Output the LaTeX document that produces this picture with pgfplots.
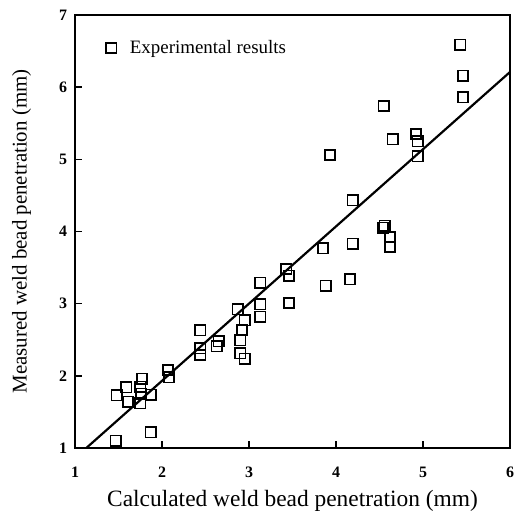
\documentclass[border=0pt]{standalone}
\usepackage{pgfplots}
\pgfplotsset{compat=1.18}
\usepackage{fontspec}
\setmainfont{Liberation Serif}
\begin{document}
\begin{tikzpicture}
\useasboundingbox (-75bp,-74bp) rectangle (439bp,448bp);
\begin{axis}[
  at={(0,0)}, anchor=south west,
  scale only axis,
  width=435bp, height=433bp,
  xmin=1, xmax=6, ymin=1, ymax=7,
  xtick={1,2,3,4,5,6}, ytick={1,2,3,4,5,6,7},
  tick align=inside, xtick pos=bottom, ytick pos=left,
  major tick length=7bp,
  every tick/.style={black, line width=1.4pt},
  axis line style={line width=2pt},
  /pgf/number format/assume math mode=true,
  tick label style={font=\fontsize{16}{18}\selectfont\bfseries},
  xticklabel style={anchor=center, yshift=-24bp},
  yticklabel style={anchor=center, xshift=-12bp},
  xlabel={Calculated weld bead penetration (mm)},
  ylabel={Measured weld bead penetration (mm)},
  every axis x label/.style={at={(axis description cs:0.5,0)}, anchor=center, yshift=-53bp,
    font=\fontsize{23.5}{25}\selectfont},
  ylabel style={font=\fontsize{21}{23}\selectfont},
  ylabel shift=21bp,
  legend style={draw=none, fill=none, at={(axis description cs:0.064,0.924)}, anchor=west,
    font=\fontsize{19}{21}\selectfont},
  legend image code/.code={\path (0cm,0cm) (0.6cm,0cm);
    \draw[#1] plot coordinates {(0.02cm,0cm)};},
  legend cell align=left,
]
\addplot[only marks, mark=square, mark size=5.2bp, mark options={line width=1.6pt, black}] coordinates {
(1.47,1.10) (1.87,1.22) (1.48,1.73) (1.59,1.84) (1.61,1.64) (1.77,1.96)
(1.75,1.85) (1.75,1.62) (1.76,1.75) (1.87,1.74) (2.07,2.08) (2.08,1.98)
(2.44,2.63) (2.44,2.38) (2.44,2.29) (2.65,2.48) (2.63,2.41)
(2.87,2.92) (2.95,2.77) (2.92,2.63) (2.90,2.49) (2.90,2.31) (2.95,2.24)
(3.13,3.29) (3.13,2.99) (3.13,2.82) (3.43,3.48) (3.46,3.39) (3.46,3.01)
(3.85,3.77) (3.88,3.25) (3.93,5.06) (4.19,3.83) (4.16,3.34) (4.19,4.43)
(4.55,5.74) (4.54,4.05) (4.56,4.08) (4.62,3.92) (4.62,3.79) (4.65,5.28)
(4.92,5.35) (4.94,5.25) (4.94,5.04) (5.43,6.59) (5.46,6.16) (5.46,5.86)
};
\addlegendentry{Experimental results}
\addplot[black, line width=2.2pt, forget plot] coordinates {(1.13,1.0) (6,6.21)};
\end{axis}
\end{tikzpicture}
\end{document}
